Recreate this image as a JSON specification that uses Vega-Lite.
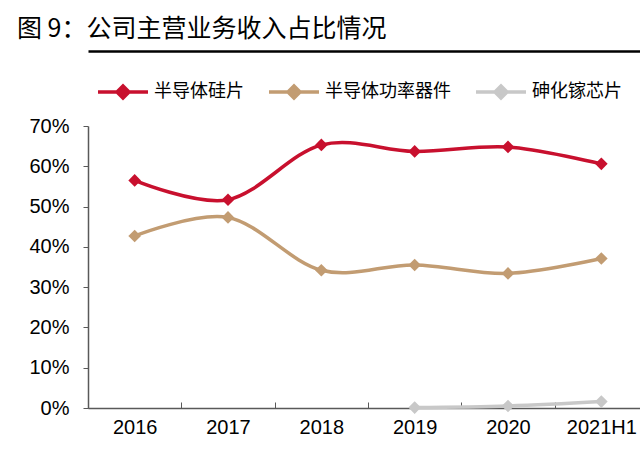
{
  "$schema": "https://vega.github.io/schema/vega-lite/v6.json",
  "autosize": "none",
  "width": 552,
  "height": 282,
  "padding": {"left": 88, "top": 126, "right": 0, "bottom": 53},
  "background": "white",
  "title": {
    "text": "图 9：公司主营业务收入占比情况",
    "anchor": "start",
    "frame": "group",
    "dx": -71,
    "offset": 9,
    "font": "Noto Sans CJK SC",
    "fontSize": 25,
    "fontWeight": "normal",
    "color": "#000000"
  },
  "data": {
    "values": [
      {"year": "2016", "series": "半导体硅片", "share": 0.565},
      {"year": "2017", "series": "半导体硅片", "share": 0.517},
      {"year": "2018", "series": "半导体硅片", "share": 0.653},
      {"year": "2019", "series": "半导体硅片", "share": 0.637},
      {"year": "2020", "series": "半导体硅片", "share": 0.648},
      {"year": "2021H1", "series": "半导体硅片", "share": 0.606},
      {"year": "2016", "series": "半导体功率器件", "share": 0.427},
      {"year": "2017", "series": "半导体功率器件", "share": 0.473},
      {"year": "2018", "series": "半导体功率器件", "share": 0.342},
      {"year": "2019", "series": "半导体功率器件", "share": 0.355},
      {"year": "2020", "series": "半导体功率器件", "share": 0.334},
      {"year": "2021H1", "series": "半导体功率器件", "share": 0.371},
      {"year": "2019", "series": "砷化镓芯片", "share": 0.001},
      {"year": "2020", "series": "砷化镓芯片", "share": 0.005},
      {"year": "2021H1", "series": "砷化镓芯片", "share": 0.016}
    ]
  },
  "layer": [
    {
      "mark": {"type": "line", "interpolate": "cardinal", "strokeWidth": 3.5},
      "encoding": {
        "x": {
          "field": "year",
          "type": "ordinal",
          "sort": ["2016", "2017", "2018", "2019", "2020", "2021H1"],
          "scale": {"range": [0, 560], "paddingInner": 0, "paddingOuter": 0},
          "axis": {
            "title": null,
            "labelAngle": 0,
            "labelFont": "Liberation Sans",
            "labelFontSize": 20,
            "labelColor": "#000000",
            "labelPadding": 15,
            "domainColor": "#595959",
            "domainWidth": 1.5,
            "tickColor": "#595959",
            "tickBand": "extent",
            "tickSize": -6,
            "tickWidth": 1
          }
        },
        "y": {
          "field": "share",
          "type": "quantitative",
          "scale": {"domain": [0, 0.7], "nice": false},
          "axis": {
            "title": null,
            "format": ".0%",
            "values": [0, 0.1, 0.2, 0.3, 0.4, 0.5, 0.6, 0.7],
            "grid": false,
            "labelFont": "Liberation Sans",
            "labelFontSize": 20,
            "labelColor": "#000000",
            "labelPadding": 14,
            "domainColor": "#595959",
            "domainWidth": 1.5,
            "tickColor": "#595959",
            "tickSize": 5
          }
        },
        "color": {
          "field": "series",
          "type": "nominal",
          "scale": {
            "domain": ["半导体硅片", "半导体功率器件", "砷化镓芯片"],
            "range": ["#C8102E", "#C29C72", "#C8C8C8"]
          },
          "legend": {
            "title": null,
            "orient": "none",
            "direction": "horizontal",
            "legendX": 8,
            "legendY": -61,
            "symbolType": "M-1,0H1M-0.24,0L0,-0.24L0.24,0L0,0.24Z",
            "symbolSize": 2500,
            "symbolStrokeWidth": 3.5,
            "labelFont": "Noto Sans CJK SC",
            "labelFontSize": 18,
            "labelColor": "#000000",
            "labelOffset": 4,
            "columnPadding": 18,
            "encode": {
              "symbols": {
                "update": {
                  "fill": {"scale": "color", "field": "value"},
                  "stroke": {"scale": "color", "field": "value"},
                  "opacity": {"value": 1}
                }
              }
            }
          }
        }
      }
    },
    {
      "mark": {"type": "point", "shape": "diamond", "filled": true, "size": 160, "opacity": 1},
      "encoding": {
        "x": {
          "field": "year",
          "type": "ordinal",
          "sort": ["2016", "2017", "2018", "2019", "2020", "2021H1"],
          "axis": {
            "orient": "top",
            "title": null,
            "labels": false,
            "ticks": false,
            "domainColor": "#000000",
            "domainWidth": 2.5,
            "offset": 75
          }
        },
        "y": {"field": "share", "type": "quantitative"},
        "color": {"field": "series", "type": "nominal"}
      }
    }
  ],
  "resolve": {"axis": {"x": "independent"}},
  "config": {"view": {"stroke": null}}
}
